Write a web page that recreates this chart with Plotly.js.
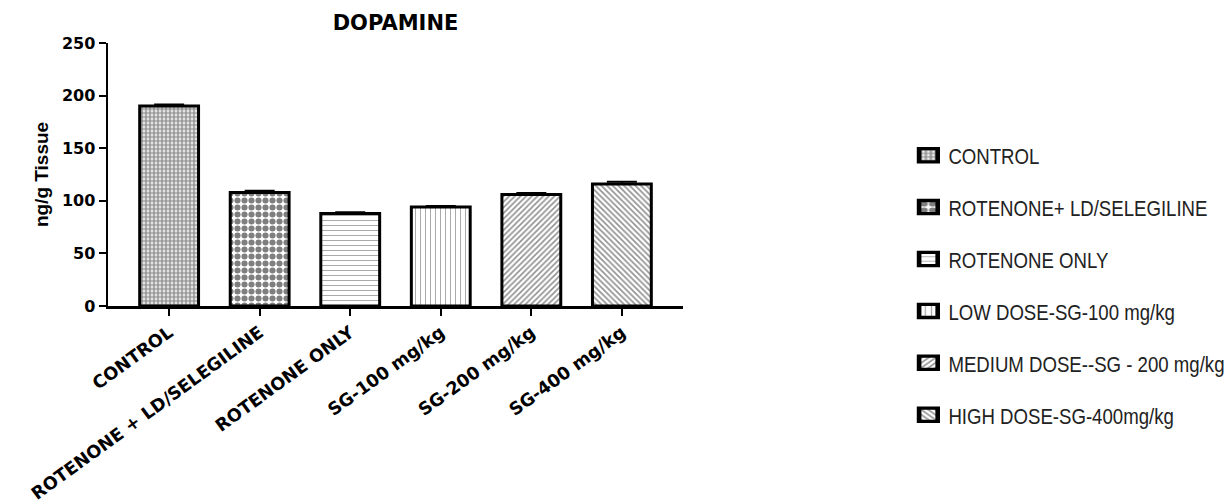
<!DOCTYPE html>
<html>
<head>
<meta charset="utf-8">
<script src="https://cdn.plot.ly/plotly-3.0.1.min.js"></script>
<style>
  html, body { margin: 0; padding: 0; background: #fff; }
  #chart { width: 1231px; height: 503px; }
</style>
</head>
<body>
<div id="chart"></div>
<script>
// Dopamine level per treatment group (ng/g tissue), mean and error
const categories = [
  'CONTROL',
  'ROTENONE + LD/SELEGILINE',
  'ROTENONE ONLY',
  'SG-100 mg/kg',
  'SG-200 mg/kg',
  'SG-400 mg/kg'
];
const legendNames = [
  'CONTROL',
  'ROTENONE+ LD/SELEGILINE',
  'ROTENONE ONLY',
  'LOW DOSE-SG-100 mg/kg',
  'MEDIUM DOSE--SG - 200 mg/kg',
  'HIGH DOSE-SG-400mg/kg'
];
const dopamine = [190, 108, 88, 94, 106, 116];
const dopamineErr = [1.5, 1.5, 1, 1, 1.5, 2];
const yTicks = [0, 50, 100, 150, 200, 250];

// Fill pattern for each group's bar
const patterns = [
  { shape: '.', size: 4, solidity: 0.7, fgcolor: '#333' },
  { shape: '.', size: 7, solidity: 0.6, fgcolor: '#000' },
  { shape: '-', size: 5, solidity: 0.2, fgcolor: '#555' },
  { shape: '|', size: 5, solidity: 0.2, fgcolor: '#555' },
  { shape: '/', size: 4, solidity: 0.4, fgcolor: '#222' },
  { shape: '\\', size: 4, solidity: 0.4, fgcolor: '#222' }
];

const boldFont = 'DejaVu Sans, Arial, sans-serif';

const traces = categories.map((cat, i) => ({
  type: 'bar',
  x: [cat],
  y: [dopamine[i]],
  name: legendNames[i],
  legendgroup: 'g' + i,
  width: 0.65,
  marker: {
    color: '#fff',
    pattern: Object.assign({ bgcolor: '#fff', fillmode: 'overlay' }, patterns[i]),
    line: { color: '#000', width: 3 }
  },
  error_y: {
    type: 'data',
    array: [dopamineErr[i]],
    symmetric: false,
    arrayminus: [0],
    color: '#000',
    thickness: 2,
    width: 15
  },
  hoverinfo: 'x+y'
}));

const layout = {
  width: 1231,
  height: 503,
  paper_bgcolor: '#fff',
  plot_bgcolor: '#fff',
  margin: { l: 108, r: 548, t: 43, b: 197, autoexpand: false },
  barmode: 'overlay',
  showlegend: true,
  title: {
    text: 'DOPAMINE',
    font: { family: boldFont, size: 21, color: '#000', weight: 'bold' },
    x: 0.5, xref: 'paper', xanchor: 'center',
    y: 1 - 23 / 503, yref: 'container', yanchor: 'middle'
  },
  xaxis: {
    type: 'category',
    categoryorder: 'array',
    categoryarray: categories,
    range: [-0.675, 5.675],
    showline: true,
    linecolor: '#000',
    linewidth: 2.5,
    ticks: 'outside',
    ticklen: 7,
    tickwidth: 2,
    tickcolor: '#000',
    tickangle: -36,
    tickfont: { family: boldFont, size: 17.6, color: '#000', weight: 'bold' },
    showgrid: false,
    zeroline: false,
    fixedrange: true
  },
  yaxis: {
    range: [0, 250],
    tickvals: yTicks,
    ticktext: yTicks.map(String),
    showline: true,
    linecolor: '#000',
    linewidth: 2.5,
    ticks: 'outside',
    ticklen: 7,
    tickwidth: 2,
    tickcolor: '#000',
    tickfont: { family: boldFont, size: 16, color: '#000', weight: 'bold' },
    title: {
      text: 'ng/g Tissue',
      font: { family: 'Liberation Sans, Arial, sans-serif', size: 19, color: '#000', weight: 'bold' },
      standoff: 8
    },
    showgrid: false,
    zeroline: false,
    fixedrange: true
  },
  legend: {
    x: 1.392,
    xanchor: 'left',
    y: 0.655,
    yanchor: 'top',
    maxheight: 480,
    traceorder: 'grouped',
    tracegroupgap: 19,
    bgcolor: 'rgba(0,0,0,0)',
    borderwidth: 0,
    font: { family: 'Liberation Sans, Arial, sans-serif', size: 23, color: '#222' }
  }
};

// Legend labels use a condensed face and the swatches are drawn larger
function styleLegend() {
  document.querySelectorAll('#chart .legendtext').forEach(t => {
    const x0 = parseFloat(t.getAttribute('x')) || 0;
    t.setAttribute('transform', `translate(${x0},0) scale(0.81,1) translate(${-x0},0)`);
  });
  document.querySelectorAll('#chart .legendpoints').forEach(g => {
    const bb = g.getBBox();
    const cx = bb.x + bb.width / 2;
    const cy = bb.y + bb.height / 2;
    const prev = g.getAttribute('transform') || '';
    g.setAttribute('transform', `${prev} translate(${cx},${cy}) scale(1.55,1.1) translate(${-cx},${-cy})`);
  });
}

Plotly.newPlot('chart', traces, layout, { displayModeBar: false, staticPlot: true })
  .then(styleLegend);
</script>
</body>
</html>
